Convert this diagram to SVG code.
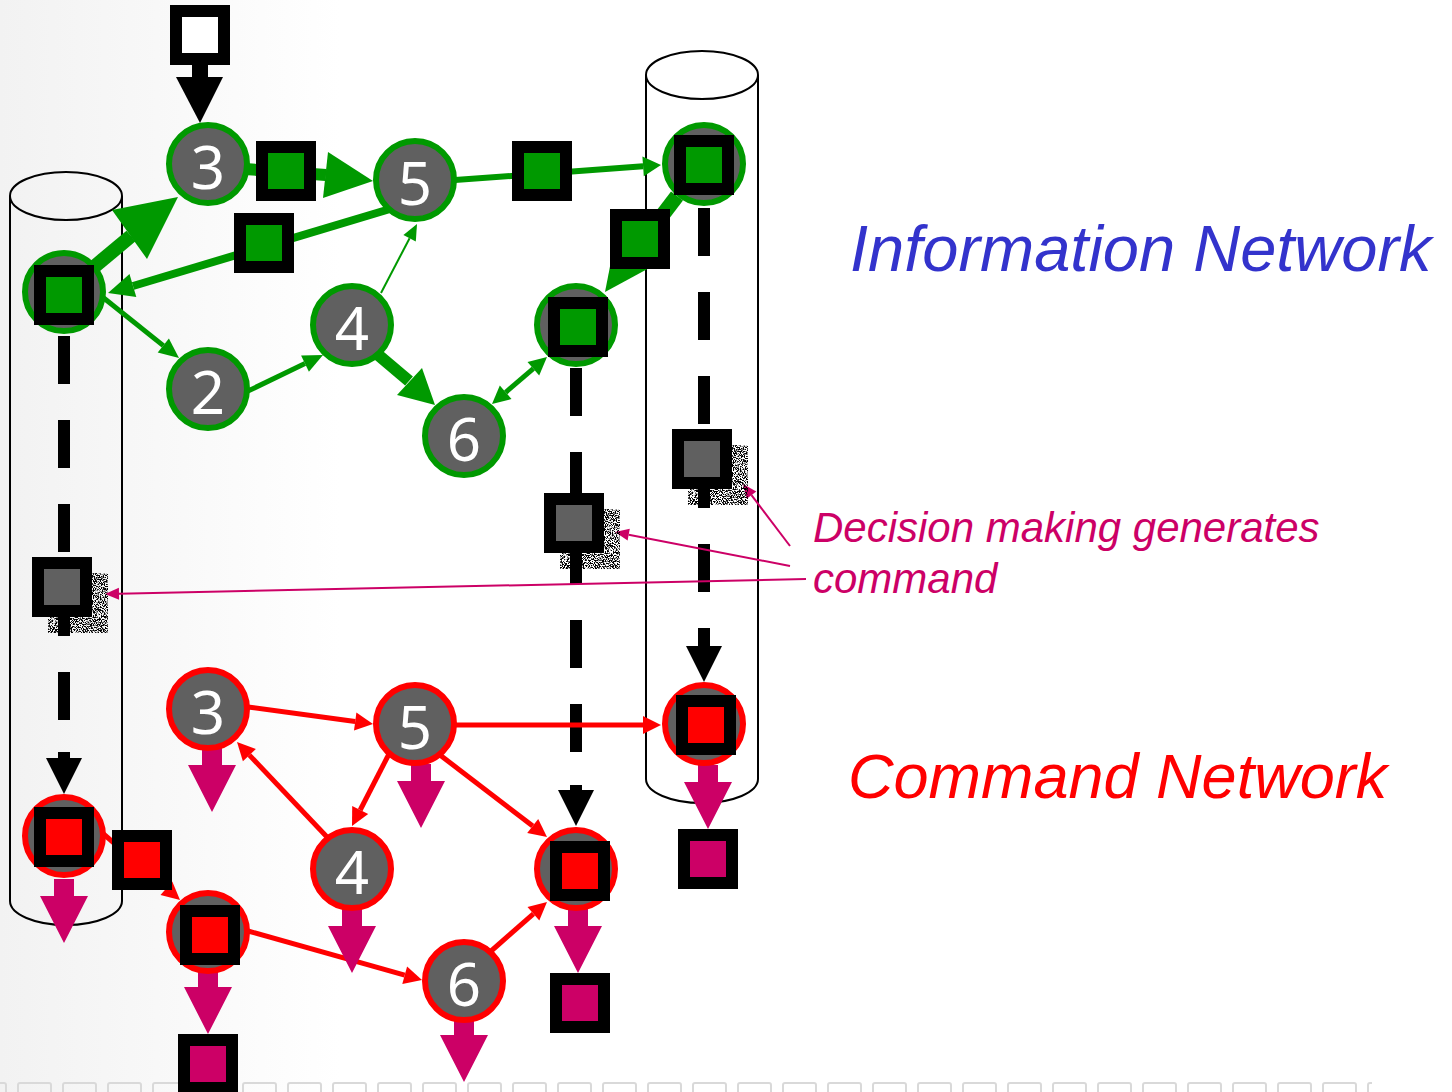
<svg xmlns="http://www.w3.org/2000/svg" width="1452" height="1092" viewBox="0 0 1452 1092">
<style>
.gn{fill:#606060;stroke:#009900;stroke-width:6}
.rn{fill:#606060;stroke:#ff0000;stroke-width:6}
.num{font-family:"Noto Sans","DejaVu Sans",sans-serif;font-size:60px;fill:#fff;text-anchor:middle}
.tok{stroke:#000;stroke-width:12}
.tg{fill:#009900}.tr{fill:#ff0000}.tx{fill:#606060}.tw{fill:#fff}.tp{fill:#cc0066}
.ge{stroke:#009900;fill:none}
.gh{fill:#009900}
.re{stroke:#ff0000;stroke-width:5;fill:none}
.rh{fill:#ff0000}
.dash{stroke:#000;stroke-width:12;stroke-dasharray:48 36;fill:none}
.blk{fill:#000}
.cyl{fill:none;stroke:#000;stroke-width:2}
.ann{stroke:#cc0066;stroke-width:2;fill:none}
.annh{fill:#cc0066}
.lbl{font-family:"Liberation Sans",Arial,sans-serif;font-style:italic}
</style>
<defs>
<linearGradient id="bg" gradientUnits="userSpaceOnUse" x1="0" y1="0" x2="340" y2="0">
<stop offset="0" stop-color="#f2f2f2"/><stop offset="1" stop-color="#ffffff"/>
</linearGradient>
<pattern id="strip" patternUnits="userSpaceOnUse" x="17" y="1082" width="45" height="40">
<rect x="1" y="1" width="33" height="36" rx="2" fill="none" stroke="#d9d9d9" stroke-width="2"/>
</pattern>
<filter id="speckle" x="0" y="0" width="1" height="1">
<feTurbulence type="fractalNoise" baseFrequency="0.9" numOctaves="2" seed="7" result="n"/>
<feColorMatrix in="n" type="matrix" values="0 0 0 0 0  0 0 0 0 0  0 0 0 0 0  9 0 0 0 -4.1" result="m"/>
<feComposite in="m" in2="SourceGraphic" operator="in"/>
</filter>
<path id="outArrow" d="M-10,0 H10 V17 H24 L0,64 L-24,17 H-10 Z" fill="#cc0066"/>
<rect id="pinkSq" x="-24" y="-24" width="48" height="48" fill="#cc0066" stroke="#000" stroke-width="12"/>
<rect id="shadow" x="0" y="0" width="60" height="60" fill="#fff" filter="url(#speckle)"/>
</defs>

<rect x="0" y="0" width="1452" height="1092" fill="url(#bg)"/>
<rect x="0" y="1082" width="1372" height="10" fill="url(#strip)"/>

<g id="cylinders">
<path class="cyl" d="M10,196 V901 A56,24 0 0 0 122,901 V196"/>
<ellipse class="cyl" cx="66" cy="196" rx="56" ry="24"/>
<path class="cyl" d="M646,75 V779 A56,24 0 0 0 758,779 V75"/>
<ellipse class="cyl" cx="702" cy="75" rx="56" ry="24" fill="#fff"/>
</g>

<g id="connectors">
<!-- input arrow -->
<rect class="blk" x="192" y="64" width="16" height="14"/>
<polygon class="blk" points="176,77 223,77 200,123"/>
<!-- dashed decision lines -->
<line class="dash" x1="64" y1="336" x2="64" y2="720"/>
<rect class="blk" x="58" y="752" width="12" height="8"/>
<polygon class="blk" points="46,758 82,758 64,794"/>
<line class="dash" x1="576" y1="368" x2="576" y2="752"/>
<rect class="blk" x="570" y="785" width="12" height="7"/>
<polygon class="blk" points="558,790 594,790 576,826"/>
<line class="dash" x1="704" y1="208" x2="704" y2="592"/>
<rect class="blk" x="698" y="628" width="12" height="20"/>
<polygon class="blk" points="686,646 722,646 704,682"/>

<!-- green information edges -->
<line class="ge" stroke-width="14" x1="88" y1="272" x2="131" y2="236"/>
<polygon class="gh" points="178,197 112,210 147,259"/>
<line class="ge" stroke-width="12" x1="245" y1="169" x2="326" y2="175"/>
<polygon class="gh" points="373,181 328,152 323,198"/>
<line class="ge" stroke-width="8" x1="390" y1="209" x2="133" y2="286"/>
<polygon class="gh" points="108,293 136.3,297.1 129.5,274.1"/>
<line class="ge" stroke-width="5" x1="100" y1="295" x2="163.3" y2="345.6"/>
<polygon class="gh" points="179,358 157.7,352.6 168.9,338.6"/>
<line class="ge" stroke-width="5" x1="248" y1="391" x2="305" y2="363.6"/>
<polygon class="gh" points="323,355 308.9,371.7 301.1,355.5"/>
<line class="ge" stroke-width="2" x1="381" y1="293" x2="409.6" y2="238.2"/>
<polygon class="gh" points="417,224 415.8,241.4 403.4,235"/>
<line class="ge" stroke-width="12" x1="370" y1="348" x2="409" y2="381"/>
<polygon class="gh" points="435,405 397,395 422,368"/>
<line class="ge" stroke-width="5" x1="505.7" y1="392.3" x2="533.3" y2="368.7"/>
<polygon class="gh" points="547,357 539.2,375.5 527.5,361.9"/>
<polygon class="gh" points="492,404 511.5,399.1 499.8,385.5"/>
<line class="ge" stroke-width="15" x1="637.6" y1="247.7" x2="677" y2="196"/>
<polygon class="gh" points="605,292 658.5,263.1 616.7,232.3"/>
<line class="ge" stroke-width="6" x1="455" y1="180" x2="643.1" y2="166.3"/>
<polygon class="gh" points="661,165 643.8,176.3 642.4,156.4"/>

<!-- red command edges -->
<line class="re" x1="248" y1="707" x2="355.2" y2="721.5"/>
<polygon class="rh" points="373,724 354,730.4 356.4,712.6"/>
<line class="re" x1="456" y1="725" x2="643" y2="725"/>
<polygon class="rh" points="661,725 643,734 643,716"/>
<line class="re" x1="390" y1="752" x2="360.2" y2="810"/>
<polygon class="rh" points="352,826 352.2,805.9 368.2,814.1"/>
<line class="re" x1="327" y1="837" x2="249.4" y2="755.1"/>
<polygon class="rh" points="237,742 255.9,748.9 242.9,761.3"/>
<line class="re" x1="440" y1="755" x2="532.7" y2="826"/>
<polygon class="rh" points="547,837 527.2,833.1 538.2,818.9"/>
<line class="re" x1="100" y1="831" x2="166.4" y2="888.2"/>
<polygon class="rh" points="180,900 160.5,895 172.3,881.4"/>
<line class="re" x1="248" y1="931" x2="404.7" y2="975.2"/>
<polygon class="rh" points="422,980 402.3,983.9 407.1,966.5"/>
<line class="re" x1="490" y1="952" x2="533.4" y2="913.8"/>
<polygon class="rh" points="547,902 539.3,920.6 527.5,907"/>

<!-- annotation pointers -->
<line class="ann" x1="790" y1="546" x2="751.5" y2="495.2"/>
<polygon class="annh" points="743,484 756.3,491.6 746.7,498.8"/>
<line class="ann" x1="790" y1="566" x2="628.7" y2="534.7"/>
<polygon class="annh" points="615,532 629.8,528.8 627.6,540.6"/>
<line class="ann" x1="806" y1="579" x2="119" y2="593.7"/>
<polygon class="annh" points="105,594 118.9,587.7 119.1,599.7"/>

<!-- command outputs -->
<use href="#outArrow" x="212" y="748"/>
<use href="#outArrow" x="421" y="764"/>
<use href="#outArrow" x="352" y="909"/>
<use href="#outArrow" x="64" y="879"/>
<use href="#outArrow" x="208" y="970"/>
<use href="#outArrow" x="464" y="1018"/>
<use href="#outArrow" x="578" y="909"/>
<use href="#outArrow" x="708" y="765"/>
</g>

<g id="input"><rect class="tok tw" x="176" y="11" width="48" height="48"/></g>

<g id="info-1"><circle class="gn" cx="64" cy="292" r="39"/><rect class="tok tg" x="40" y="271" width="48" height="48"/></g>
<g id="info-3"><circle class="gn" cx="208" cy="164" r="39"/><text class="num" x="208" y="189">3</text></g>
<g id="info-5"><circle class="gn" cx="415" cy="180" r="39"/><text class="num" x="415" y="205">5</text></g>
<g id="info-2"><circle class="gn" cx="208" cy="389" r="39"/><text class="num" x="208" y="414">2</text></g>
<g id="info-4"><circle class="gn" cx="352" cy="325" r="39"/><text class="num" x="352" y="350">4</text></g>
<g id="info-6"><circle class="gn" cx="464" cy="436" r="39"/><text class="num" x="464" y="461">6</text></g>
<g id="info-m"><circle class="gn" cx="576" cy="325" r="39"/><rect class="tok tg" x="554" y="303" width="48" height="48"/></g>
<g id="info-r"><circle class="gn" cx="704" cy="164" r="39"/><rect class="tok tg" x="680" y="141" width="48" height="48"/></g>

<g id="info-tokens">
<rect class="tok tg" x="262" y="147" width="48" height="48"/>
<rect class="tok tg" x="240" y="219" width="48" height="48"/>
<rect class="tok tg" x="518" y="147" width="48" height="48"/>
<rect class="tok tg" x="616" y="215" width="48" height="48"/>
</g>

<g id="decision-left"><use href="#shadow" x="48" y="573"/><rect class="tok tx" x="38" y="563" width="48" height="48"/></g>
<g id="decision-mid"><use href="#shadow" x="560" y="509"/><rect class="tok tx" x="550" y="499" width="48" height="48"/></g>
<g id="decision-right"><use href="#shadow" x="688" y="445"/><rect class="tok tx" x="678" y="435" width="48" height="48"/></g>

<g id="cmd-1"><circle class="rn" cx="64" cy="836" r="39"/><rect class="tok tr" x="40" y="813" width="48" height="48"/></g>
<g id="cmd-3"><circle class="rn" cx="208" cy="709" r="39"/><text class="num" x="208" y="734">3</text></g>
<g id="cmd-5"><circle class="rn" cx="415" cy="724" r="39"/><text class="num" x="415" y="749">5</text></g>
<g id="cmd-4"><circle class="rn" cx="352" cy="869" r="39"/><text class="num" x="352" y="894">4</text></g>
<g id="cmd-2"><circle class="rn" cx="208" cy="932" r="39"/><rect class="tok tr" x="186" y="911" width="48" height="48"/></g>
<g id="cmd-6"><circle class="rn" cx="464" cy="981" r="39"/><text class="num" x="464" y="1006">6</text></g>
<g id="cmd-m"><circle class="rn" cx="576" cy="869" r="39"/><rect class="tok tr" x="556" y="847" width="48" height="48"/></g>
<g id="cmd-r"><circle class="rn" cx="704" cy="724" r="39"/><rect class="tok tr" x="682" y="701" width="48" height="48"/></g>
<g id="cmd-token"><rect class="tok tr" x="118" y="836" width="48" height="48"/></g>

<g id="outputs">
<use href="#pinkSq" x="208" y="1064"/>
<use href="#pinkSq" x="580" y="1003"/>
<use href="#pinkSq" x="708" y="859"/>
</g>

<g id="labels">
<text class="lbl" x="850" y="271" font-size="65" fill="#3333cc">Information Network</text>
<text class="lbl" x="848" y="798" font-size="63" fill="#ff0000">Command Network</text>
<text class="lbl" x="813" y="542" font-size="42" fill="#cc0066">Decision making generates</text>
<text class="lbl" x="813" y="593" font-size="42" fill="#cc0066">command</text>
</g>
</svg>
